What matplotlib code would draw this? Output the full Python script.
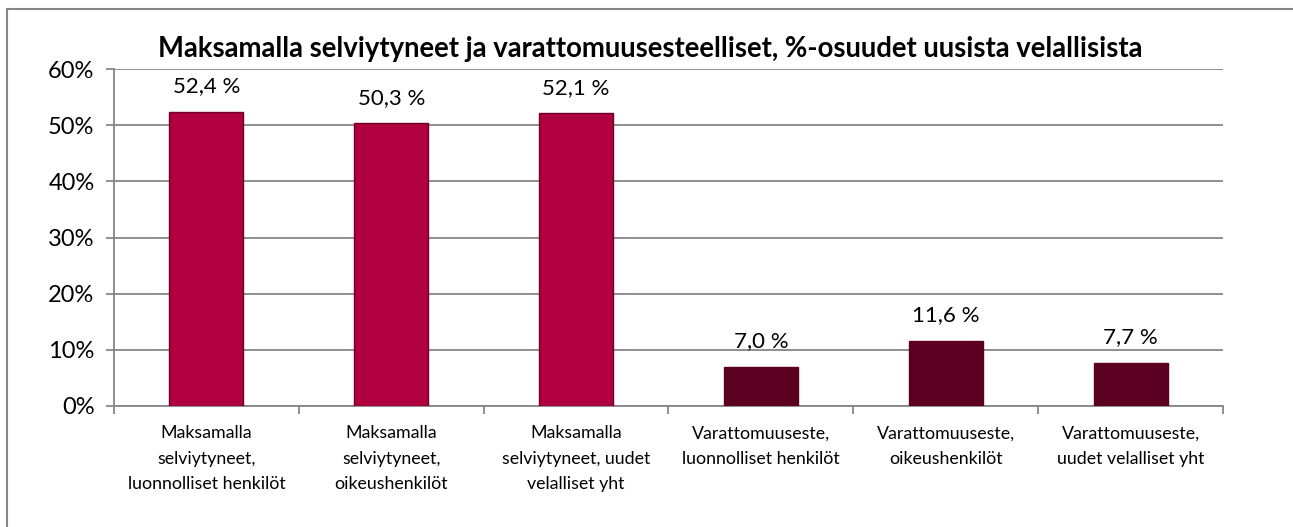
import matplotlib.pyplot as plt
from matplotlib.patches import Rectangle
from matplotlib.ticker import FuncFormatter, MultipleLocator

categories = [
    'Maksamalla\nselviytyneet,\nluonnolliset henkilöt',
    'Maksamalla\nselviytyneet,\noikeushenkilöt',
    'Maksamalla\nselviytyneet, uudet\nvelalliset yht',
    'Varattomuuseste,\nluonnolliset henkilöt',
    'Varattomuuseste,\noikeushenkilöt',
    'Varattomuuseste,\nuudet velalliset yht',
]
shares = [52.4, 50.3, 52.1, 7.0, 11.6, 7.7]
title = 'Maksamalla selviytyneet ja varattomuusesteelliset, %-osuudet uusista velallisista'

bar_colors = ['#B0003F'] * 3 + ['#5C0022'] * 3
edge_colors = ['#6E0028'] * 3 + ['#5C0022'] * 3

plt.rcParams['font.family'] = ['Lato', 'DejaVu Sans']

fig = plt.figure(figsize=(12.93, 5.27), dpi=100)
ax = fig.add_axes([114 / 1293, 121 / 527, 1109 / 1293, 337 / 527])

# outer chart frame
fig.patches.append(Rectangle((7 / 1293, -0.1), 1.2, (527 - 9) / 527 + 0.1,
                             transform=fig.transFigure, fill=False,
                             edgecolor='#868686', linewidth=1.5))

x = range(len(shares))
ax.bar(x, shares, width=0.4, color=bar_colors, edgecolor=edge_colors,
       linewidth=1.0, zorder=3)

for i, v in enumerate(shares):
    ax.text(i, v + 2.8, f'{v:.1f} %'.replace('.', ','), ha='center',
            va='bottom', fontsize=16, color='#000000')

ax.set_xlim(-0.5, len(shares) - 0.5)
ax.set_ylim(0, 60)
ax.yaxis.set_major_locator(MultipleLocator(10))
ax.yaxis.set_major_formatter(FuncFormatter(lambda v, p: f'{v:.0f}%'))
ax.grid(axis='y', color='#868686', linewidth=1.3, zorder=0)

ax.set_xticks([i - 0.5 for i in range(len(shares) + 1)], minor=False)
ax.set_xticklabels([])
ax.set_xticks(list(x), minor=True)
ax.set_xticklabels(categories, minor=True, fontsize=12.8, linespacing=1.72)
ax.tick_params(axis='x', which='minor', length=0, pad=14)
ax.tick_params(axis='x', which='major', length=6, width=1.3, color='#868686')
ax.tick_params(axis='y', length=6, width=1.3, color='#868686',
               labelsize=17, pad=8)

for side in ['top', 'right']:
    ax.spines[side].set_visible(False)
for side in ['left', 'bottom']:
    ax.spines[side].set_color('#868686')
    ax.spines[side].set_linewidth(1.3)

fig.text(650 / 1293, 1 - 49 / 527, title, ha='center', va='center',
         fontsize=19.8, fontweight='bold')

fig.savefig('out.png', dpi=100)
